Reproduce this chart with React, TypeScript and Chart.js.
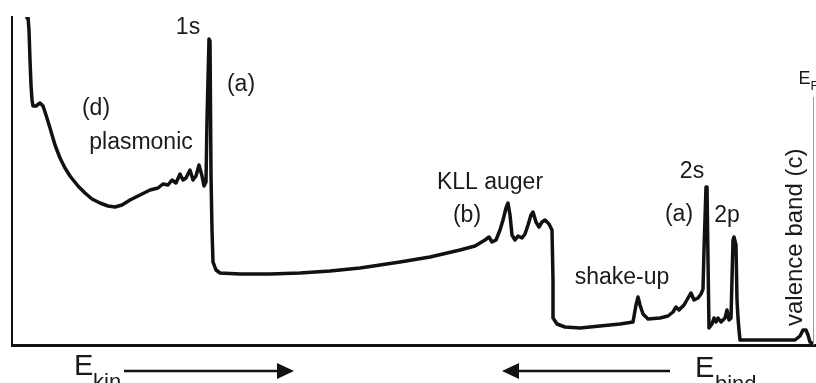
import React, { useEffect, useRef } from "react";
import { Chart, registerables } from "chart.js";

Chart.register(...registerables);

// Spectrum trace (arbitrary energy units, arbitrary intensity units)
const energy = [
  15, 16, 17, 18, 19, 20, 21, 24, 28, 31, 34, 38, 43, 48, 53, 58, 66, 73, 80, 88,
  96, 103, 110, 118, 128, 138, 146, 151, 156, 160, 164, 168, 171, 174, 178, 181, 184, 187, 190, 192,
  194, 195, 197, 198, 199, 200, 201, 204, 208, 228, 258, 288, 318, 348, 388, 418, 448, 463, 473, 477,
  480, 484, 488, 491, 494, 496, 498, 500, 503, 506, 510, 513, 516, 519, 521, 524, 527, 530, 533, 537,
  540, 541, 541, 545, 553, 568, 588, 608, 621, 624, 626, 628, 631, 636, 648, 656, 661, 664, 667, 672,
  676, 679, 682, 686, 689, 691, 692, 694, 695, 696, 697, 700, 702, 704, 706, 709, 713, 715, 717, 719,
  721, 722, 724, 725, 726, 727, 728, 748, 783, 788, 791, 794, 796, 798, 800,
];
const intensity = [
  327, 328, 315, 285, 260, 245, 239, 239, 242, 239, 230, 217, 200, 187, 177, 169, 159, 152, 146, 142,
  139, 138, 140, 145, 150, 155, 157, 161, 160, 165, 162, 171, 165, 167, 175, 165, 169, 180, 169, 159,
  163, 225, 306, 304, 170, 115, 83, 75, 72, 71, 71, 72, 74, 77, 83, 88, 95, 99, 105, 108,
  103, 105, 115, 125, 137, 142, 130, 110, 105, 109, 107, 111, 120, 130, 133, 123, 118, 123, 125, 121,
  115, 65, 27, 21, 18, 17, 19, 21, 23, 40, 48, 40, 31, 26, 27, 29, 33, 38, 35, 40,
  47, 52, 45, 47, 51, 56, 95, 158, 158, 85, 17, 21, 27, 23, 27, 23, 27, 35, 25, 27,
  105, 108, 100, 45, 27, 15, 5, 5, 5, 9, 15, 15, 10, 3, 2,
];

// Peak annotations (anchored in data units; text baseline)
const peakLabels = ["1s", "(a)", "(d)", "plasmonic", "KLL auger", "(b)", "shake-up", "2s", "(a)", "2p"];
const peakLabelX = [176, 229, 84, 129, 478, 455, 610, 680, 667, 715];
const peakLabelY = [311, 254, 230, 196, 156, 123, 61, 167, 124, 123];

const valenceLabel = "valence band (c)";
const valenceX = 790;
const valenceY = 19;

const fermiX = 801;
const fermiTop = 248;

const annotationPlugin = {
  id: "xpsAnnotations",
  afterDatasetsDraw(chart: any) {
    const { ctx, scales } = chart;
    const xs = scales.x;
    const ys = scales.y;
    ctx.save();
    ctx.fillStyle = "#1a1a1a";
    ctx.font = "23px 'Liberation Sans', Arial, sans-serif";
    ctx.textAlign = "center";
    ctx.textBaseline = "alphabetic";
    peakLabels.forEach((t, i) => {
      ctx.fillText(t, xs.getPixelForValue(peakLabelX[i]), ys.getPixelForValue(peakLabelY[i]));
    });

    // rotated valence band label
    ctx.save();
    ctx.translate(xs.getPixelForValue(valenceX), ys.getPixelForValue(valenceY));
    ctx.rotate(-Math.PI / 2);
    ctx.textAlign = "left";
    ctx.font = "24px 'Liberation Sans', Arial, sans-serif";
    ctx.fillText(valenceLabel, 0, 0);
    ctx.restore();

    // Fermi level line
    const fx = Math.round(xs.getPixelForValue(fermiX)) + 0.5;
    ctx.strokeStyle = "#9a9a9a";
    ctx.lineWidth = 1;
    ctx.beginPath();
    ctx.moveTo(fx, ys.getPixelForValue(fermiTop));
    ctx.lineTo(fx, ys.getPixelForValue(0));
    ctx.stroke();
    ctx.textAlign = "left";
    ctx.font = "18px 'Liberation Sans', Arial, sans-serif";
    ctx.fillText("E", fx - 15, 84);
    ctx.font = "13px 'Liberation Sans', Arial, sans-serif";
    ctx.fillText("F", fx - 3, 90);

    // Energy direction arrows below axis
    const ay = 371;
    ctx.font = "29px 'Liberation Sans', Arial, sans-serif";
    ctx.fillText("E", 74, 375);
    ctx.font = "22px 'Liberation Sans', Arial, sans-serif";
    ctx.fillText("kin", 93, 389);
    ctx.font = "29px 'Liberation Sans', Arial, sans-serif";
    ctx.fillText("E", 695, 377);
    ctx.font = "22px 'Liberation Sans', Arial, sans-serif";
    ctx.fillText("bind", 715, 391);

    ctx.strokeStyle = "#111";
    ctx.fillStyle = "#111";
    ctx.lineWidth = 2.5;
    ctx.beginPath();
    ctx.moveTo(124, ay);
    ctx.lineTo(282, ay);
    ctx.moveTo(514, ay);
    ctx.lineTo(670, ay);
    ctx.stroke();
    ctx.beginPath();
    ctx.moveTo(294, ay);
    ctx.lineTo(277, ay - 8);
    ctx.lineTo(277, ay + 8);
    ctx.closePath();
    ctx.fill();
    ctx.beginPath();
    ctx.moveTo(502, ay);
    ctx.lineTo(519, ay - 8);
    ctx.lineTo(519, ay + 8);
    ctx.closePath();
    ctx.fill();
    ctx.restore();
  },
};

export default function App() {
  const ref = useRef<HTMLCanvasElement>(null);
  useEffect(() => {
    if (!ref.current) return;
    const chart = new Chart(ref.current, {
      type: "line",
      data: {
        datasets: [
          {
            data: energy.map((x, i) => ({ x, y: intensity[i] })),
            borderColor: "#111",
            borderWidth: 3.5,
            pointRadius: 0,
            tension: 0,
            fill: false,
            borderJoinStyle: "round",
            borderCapStyle: "round",
          },
        ],
      },
      options: {
        animation: false,
        responsive: true,
        maintainAspectRatio: false,
        layout: { padding: { left: 12, top: 17, right: 0, bottom: 38 } },
        plugins: { legend: { display: false }, tooltip: { enabled: false } },
        scales: {
          x: {
            type: "linear",
            min: 0,
            max: 804,
            grid: { display: false, drawTicks: false },
            ticks: { display: false },
            border: { display: true, color: "#111", width: 3 },
          },
          y: {
            type: "linear",
            min: 0,
            max: 328,
            grid: { display: false, drawTicks: false },
            ticks: { display: false },
            border: { display: true, color: "#111", width: 2 },
          },
        },
      },
      plugins: [annotationPlugin],
    } as any);
    return () => chart.destroy();
  }, []);
  return (
    <div style={{ position: "absolute", left: 0, top: 0, width: 816, height: 383, background: "#fff" }}>
      <canvas ref={ref} />
    </div>
  );
}
